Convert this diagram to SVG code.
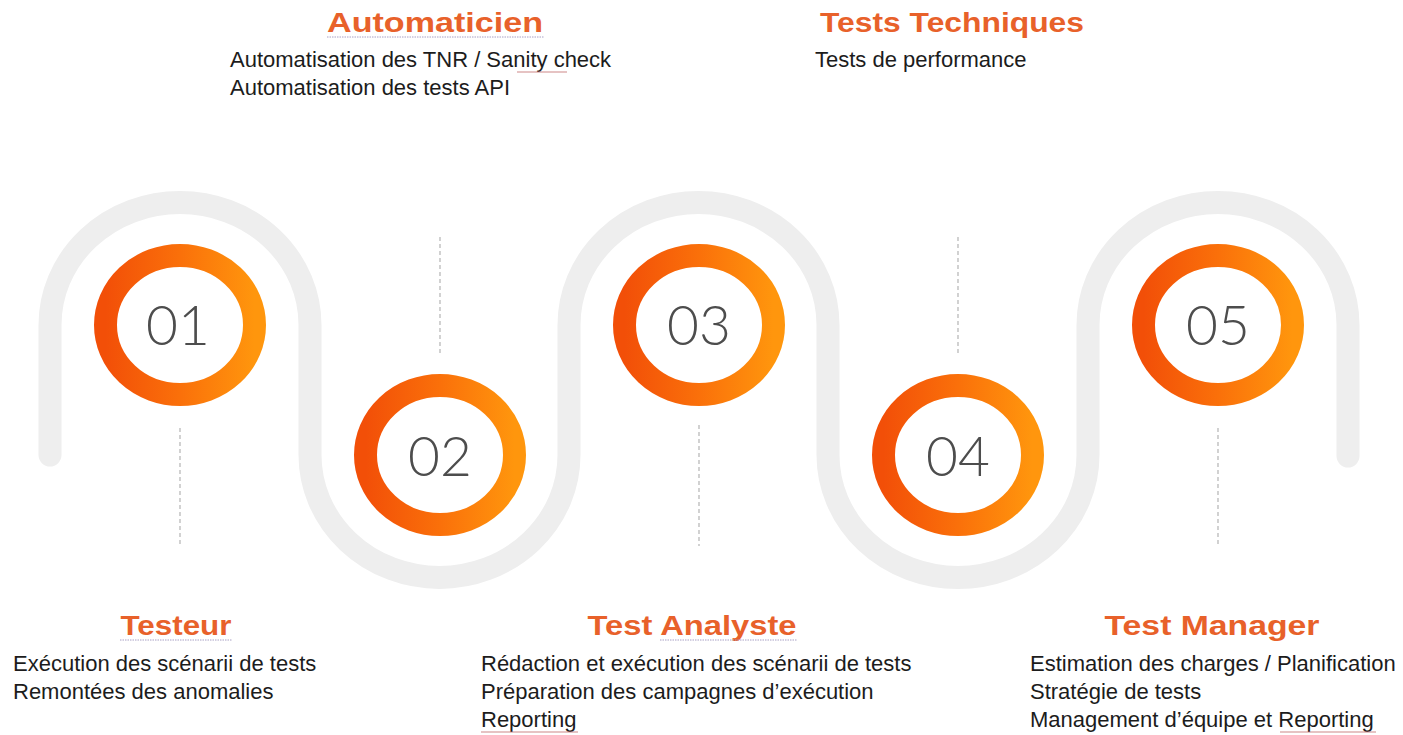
<svg xmlns="http://www.w3.org/2000/svg" width="1403" height="735" viewBox="0 0 1403 735">
  <defs>
    <linearGradient id="ringGrad" x1="0" y1="0" x2="1" y2="0">
      <stop offset="0" stop-color="#f24f08"/>
      <stop offset="0.5" stop-color="#fa700a"/>
      <stop offset="1" stop-color="#ff960d"/>
    </linearGradient>
    <style>
      .track { fill: none; stroke: #eeeeee; stroke-width: 23; stroke-linecap: round; stroke-linejoin: round; }
      .dash { stroke: #b4b4b4; stroke-width: 1.2; stroke-dasharray: 4 3; fill: none; }
      .ring { fill: #ffffff; stroke: url(#ringGrad); stroke-width: 23; }
      .num { font-family: Lato, "Open Sans", "Liberation Sans", sans-serif; font-weight: 300; font-size: 55px; fill: #4d4d4d; text-anchor: middle; }
      .head { font-family: "Liberation Sans", Arial, sans-serif; font-weight: bold; font-size: 28px; fill: #e8612a; text-anchor: middle; }
      .body { font-family: "Liberation Sans", Arial, sans-serif; font-size: 22px; fill: #1c1c1c; }
      .squig { stroke: #a8a0c4; stroke-width: 1; stroke-dasharray: 1.5 1; fill: none; }
      .spell { stroke: #c06a6a; stroke-width: 1.2; fill: none; opacity: 0.8; }
    </style>
  </defs>
  <rect width="1403" height="735" fill="#ffffff"/>

  <g id="connectors">
    <path class="track" d="M 50 455 L 50 325 A 130 122.5 0 0 1 310 325 L 310 455 A 129.5 122.5 0 0 0 569 455 L 569 325 A 129.5 122.5 0 0 1 828 325 L 828 455 A 130 122.5 0 0 0 1088 455 L 1088 325 A 130 122.5 0 0 1 1348 325 L 1348 456"/>
    <line class="dash" x1="180" y1="428" x2="180" y2="546"/>
    <line class="dash" x1="440" y1="237" x2="440" y2="355"/>
    <line class="dash" x1="699" y1="425" x2="699" y2="546"/>
    <line class="dash" x1="958" y1="237" x2="958" y2="355"/>
    <line class="dash" x1="1218" y1="428" x2="1218" y2="546"/>
  </g>

  <g id="step-01">
    <ellipse class="ring" cx="180" cy="325" rx="74.5" ry="69.5"/>
    <text class="num" x="178" y="345">01</text>
  </g>
  <g id="step-02">
    <ellipse class="ring" cx="440" cy="455" rx="74.5" ry="69.5"/>
    <text class="num" x="440" y="476">02</text>
  </g>
  <g id="step-03">
    <ellipse class="ring" cx="699" cy="325" rx="74.5" ry="69.5"/>
    <text class="num" x="699" y="345">03</text>
  </g>
  <g id="step-04">
    <ellipse class="ring" cx="958" cy="455" rx="74.5" ry="69.5"/>
    <text class="num" x="958" y="476">04</text>
  </g>
  <g id="step-05">
    <ellipse class="ring" cx="1218" cy="325" rx="74.5" ry="69.5"/>
    <text class="num" x="1218" y="345">05</text>
  </g>

  <g id="label-automaticien">
    <text class="head" x="435" y="32" textLength="216" lengthAdjust="spacingAndGlyphs">Automaticien</text>
    <path class="squig" d="M 327 37 L 544 37"/>
    <text class="body" x="230" y="67">Automatisation des TNR / Sanity check</text>
    <path class="spell" d="M 517 72 L 567 72"/>
    <text class="body" x="230" y="95">Automatisation des tests API</text>
  </g>

  <g id="label-tests-techniques">
    <text class="head" x="952" y="32" textLength="264" lengthAdjust="spacingAndGlyphs">Tests Techniques</text>
    <text class="body" x="815" y="67">Tests de performance</text>
  </g>

  <g id="label-testeur">
    <text class="head" x="176" y="635" textLength="111" lengthAdjust="spacingAndGlyphs">Testeur</text>
    <path class="squig" d="M 120 640 L 232 640"/>
    <text class="body" x="13" y="671">Exécution des scénarii de tests</text>
    <text class="body" x="13" y="699">Remontées des anomalies</text>
  </g>

  <g id="label-test-analyste">
    <text class="head" x="692" y="635" textLength="209" lengthAdjust="spacingAndGlyphs">Test Analyste</text>
    <path class="squig" d="M 660 640 L 797 640"/>
    <text class="body" x="481" y="671">Rédaction et exécution des scénarii de tests</text>
    <text class="body" x="481" y="699">Préparation des campagnes d’exécution</text>
    <text class="body" x="481" y="727">Reporting</text>
    <path class="spell" d="M 481 732 L 578 732"/>
  </g>

  <g id="label-test-manager">
    <text class="head" x="1212" y="635" textLength="215" lengthAdjust="spacingAndGlyphs">Test Manager</text>
    <text class="body" x="1030" y="671">Estimation des charges / Planification</text>
    <text class="body" x="1030" y="699">Stratégie de tests</text>
    <text class="body" x="1030" y="727">Management d’équipe et Reporting</text>
    <path class="spell" d="M 1280 732 L 1376 732"/>
  </g>
</svg>
